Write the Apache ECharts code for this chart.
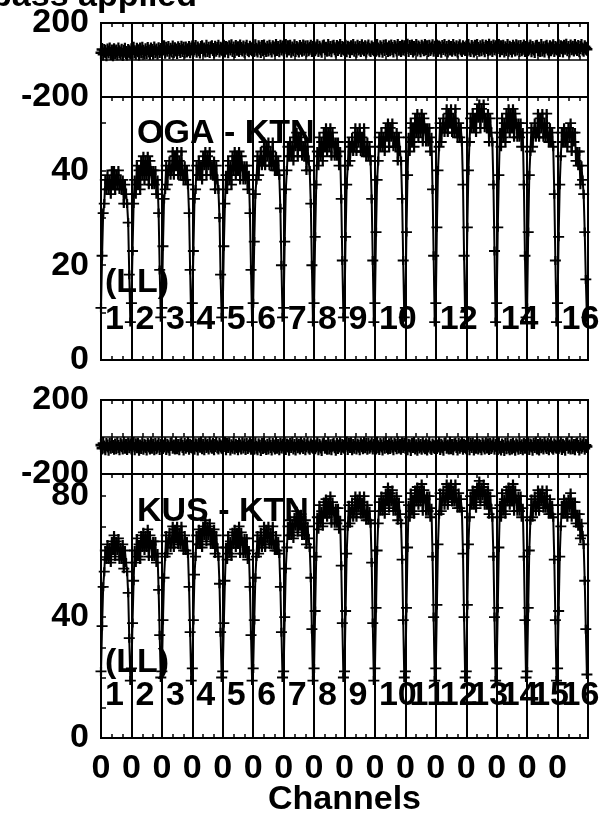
<!DOCTYPE html>
<html><head><meta charset="utf-8">
<script src="https://cdn.jsdelivr.net/npm/echarts@6/dist/echarts.min.js"></script>
<style>html,body{margin:0;padding:0;background:#fff}#c{width:599px;height:815px}</style>
</head><body><div id="c"></div>
<script>
const N_IF = 16, N_CH = 28;

const ampOGA = [
 [11,22,31, 33,38,36,39,36,38,35,40,37,40,36,39,37,40,36,38,36,38,33,37,35,33, 29,18,8],
 [12,23,33, 38,35,41,37,40,36,42,39,43,38,42,39,43,37,42,40,37,40,37,40,35,38, 31,19,9],
 [11,24,34, 36,41,37,40,42,39,40,44,39,43,41,44,39,42,39,44,39,38,41,38,40,37, 31,19,8],
 [12,23,34, 36,41,39,42,39,41,38,43,41,44,39,43,41,44,39,41,39,42,36,41,38,36, 30,18,9],
 [11,24,33, 39,36,42,38,41,37,43,40,44,39,43,40,44,38,43,41,38,41,38,41,36,39, 31,19,8],
 [12,25,35, 38,43,39,42,44,41,42,46,41,45,43,46,41,44,41,46,41,40,43,40,42,39, 32,20,9],
 [11,25,36, 40,45,43,46,43,45,42,47,45,48,43,47,45,48,43,45,43,46,40,45,42,40, 33,20,8],
 [12,26,37, 44,41,47,43,46,42,48,45,49,44,48,45,49,43,48,46,43,46,43,46,41,44, 34,21,9],
 [11,26,37, 41,46,42,45,47,44,45,49,44,48,46,49,44,47,44,49,44,43,46,43,45,42, 34,21,8],
 [12,27,38, 42,47,45,48,45,47,44,49,47,50,45,49,47,50,45,47,45,48,42,47,44,42, 34,21,9],
 [11,27,39, 47,44,50,46,49,45,51,48,52,47,51,48,52,46,51,49,46,49,46,49,44,47, 36,22,8],
 [12,28,40, 45,50,46,49,51,48,49,53,48,52,50,53,48,51,48,53,48,47,50,47,49,46, 37,22,9],
 [11,28,40, 46,51,49,52,49,51,48,53,51,54,49,53,51,54,49,51,49,52,46,51,48,46, 37,23,8],
 [12,28,39, 48,45,51,47,50,46,52,49,53,48,52,49,53,47,52,50,47,50,47,50,45,48, 37,22,9],
 [11,27,39, 44,49,45,48,50,47,48,52,47,51,49,52,47,50,47,52,47,46,49,46,48,45, 35,21,8],
 [12,26,37, 43,48,46,49,46,48,45,49,47,50,44,48,46,48,42,44,41,44,37,41,38,35, 27,17,9]
];

const phaseOGA = [
 [39,57,32,51,46,28,54,43,60,35,48,29,56,41,49,34,59,45,37,53,30,47,58,40,33,52,44,38],
 [55,39,64,45,36,58,50,33,60,43,63,47,38,56,41,62,48,35,59,52,40,65,44,54,37,61,46,57],
 [47,59,71,42,64,53,67,40,58,49,70,45,61,54,41,66,57,46,69,51,63,43,65,48,56,68,44,60],
 [70,52,61,73,47,65,56,43,68,72,54,60,49,75,51,63,46,66,71,57,44,69,53,62,74,48,64,58],
 [56,74,49,68,63,45,71,60,77,52,65,46,73,58,66,51,76,62,54,70,47,64,75,57,50,69,61,55],
 [68,52,77,58,49,71,63,46,73,56,76,60,51,69,54,75,61,48,72,65,53,78,57,67,50,74,59,70],
 [54,66,78,49,71,60,74,47,65,56,77,52,68,61,48,73,64,53,76,58,70,50,72,55,63,75,51,67],
 [74,56,65,77,51,69,60,47,72,76,58,64,53,79,55,67,50,70,75,61,48,73,57,66,78,52,68,62],
 [57,75,50,69,64,46,72,61,78,53,66,47,74,59,67,52,77,63,55,71,48,65,76,58,51,70,62,56],
 [69,53,78,59,50,72,64,47,74,57,77,61,52,70,55,76,62,49,73,66,54,79,58,68,51,75,60,71],
 [56,68,80,51,73,62,76,49,67,58,79,54,70,63,50,75,66,55,78,60,72,52,74,57,65,77,53,69],
 [58,76,51,70,65,47,73,62,79,54,67,48,75,60,68,53,78,64,56,72,49,66,77,59,52,71,63,57],
 [70,54,79,60,51,73,65,48,75,58,78,62,53,71,56,77,63,50,74,67,55,80,59,69,52,76,61,72],
 [55,67,79,50,72,61,75,48,66,57,78,53,69,62,49,74,65,54,77,59,71,51,73,56,64,76,52,68],
 [73,55,64,76,50,68,59,46,71,75,57,63,52,78,54,66,49,69,74,60,47,72,56,65,77,51,67,61],
 [59,77,52,71,66,48,74,63,80,55,68,49,76,61,69,54,79,65,57,73,50,67,78,60,53,72,64,58]
];

const ampKUS = [
 [22,37,50, 55,62,59,64,59,63,58,65,62,67,60,65,62,66,59,63,59,64,56,62,58,55, 48,33,19],
 [23,38,52, 62,58,66,60,64,59,67,63,68,62,67,63,69,60,67,64,60,65,60,65,58,61, 49,34,20],
 [22,39,53, 60,67,61,65,68,63,65,70,63,69,66,70,64,68,64,70,64,62,67,62,65,61, 50,35,19],
 [23,39,54, 60,67,64,69,64,68,63,70,67,72,65,70,67,71,64,68,64,69,61,67,63,60, 51,35,20],
 [22,38,52, 63,59,67,61,65,60,68,64,69,63,68,64,70,61,68,65,61,66,61,66,59,62, 50,34,19],
 [23,39,53, 60,67,61,65,68,63,65,70,63,69,66,70,64,68,64,70,64,62,67,62,65,61, 50,35,20],
 [22,40,56, 63,70,67,72,67,71,66,73,70,75,68,73,70,74,67,71,67,72,64,70,66,63, 53,36,19],
 [23,42,60, 73,69,77,71,75,70,78,74,79,73,78,74,80,71,78,75,71,76,71,76,69,72, 57,38,20],
 [22,42,61, 70,77,71,75,78,73,75,80,73,79,76,80,74,78,74,80,74,72,77,72,75,71, 58,38,19],
 [23,43,62, 71,78,75,80,75,79,74,81,78,83,76,81,78,82,75,79,75,80,72,78,74,71, 59,39,20],
 [22,43,63, 77,73,81,75,79,74,82,78,83,77,82,78,84,75,82,79,75,80,75,80,73,76, 60,40,19],
 [23,44,64, 74,81,75,79,82,77,79,84,77,83,80,84,78,82,78,84,78,76,81,76,79,75, 61,40,20],
 [22,44,64, 73,80,77,82,77,81,76,83,80,85,78,83,80,84,77,81,77,82,74,80,76,73, 60,40,19],
 [23,43,63, 77,73,81,75,79,74,82,78,83,77,82,78,84,75,82,79,75,80,75,80,73,76, 60,39,20],
 [22,43,62, 72,79,73,77,80,75,77,82,75,81,78,82,76,80,76,82,76,74,79,74,77,73, 59,39,19],
 [23,42,60, 70,77,74,79,74,78,73,79,76,81,73,78,74,78,71,74,70,74,66,71,67,64, 52,36,21]
];

const phaseKUS = [
 [-44,-60,-35,-54,-63,-41,-49,-66,-39,-56,-36,-52,-61,-43,-58,-37,-51,-64,-40,-47,-59,-34,-55,-45,-62,-38,-53,-42],
 [-59,-47,-35,-64,-42,-53,-39,-66,-48,-57,-36,-61,-45,-52,-65,-40,-49,-60,-37,-55,-43,-63,-41,-58,-50,-38,-62,-46],
 [-39,-57,-48,-36,-62,-44,-53,-66,-41,-37,-55,-49,-60,-34,-58,-46,-63,-43,-38,-52,-65,-40,-56,-47,-35,-61,-45,-51],
 [-54,-36,-61,-42,-47,-65,-39,-50,-33,-58,-45,-64,-37,-52,-44,-59,-34,-48,-56,-40,-63,-46,-35,-53,-60,-41,-49,-55],
 [-58,-46,-34,-63,-41,-52,-38,-65,-47,-56,-35,-60,-44,-51,-64,-39,-48,-59,-36,-54,-42,-62,-40,-57,-49,-37,-61,-45],
 [-45,-61,-36,-55,-64,-42,-50,-67,-40,-57,-37,-53,-62,-44,-59,-38,-52,-65,-41,-48,-60,-35,-56,-46,-63,-39,-54,-43],
 [-55,-37,-62,-43,-48,-66,-40,-51,-34,-59,-46,-65,-38,-53,-45,-60,-35,-49,-57,-41,-64,-47,-36,-54,-61,-42,-50,-56],
 [-40,-58,-49,-37,-63,-45,-54,-67,-42,-38,-56,-50,-61,-35,-59,-47,-64,-44,-39,-53,-66,-41,-57,-48,-36,-62,-46,-52],
 [-57,-45,-33,-62,-40,-51,-37,-64,-46,-55,-34,-59,-43,-50,-63,-38,-47,-58,-35,-53,-41,-61,-39,-56,-48,-36,-60,-44],
 [-43,-59,-34,-53,-62,-40,-48,-65,-38,-55,-35,-51,-60,-42,-57,-36,-50,-63,-39,-46,-58,-33,-54,-44,-61,-37,-52,-41],
 [-56,-38,-63,-44,-49,-67,-41,-52,-35,-60,-47,-66,-39,-54,-46,-61,-36,-50,-58,-42,-65,-48,-37,-55,-62,-43,-51,-57],
 [-39,-57,-48,-36,-62,-44,-53,-66,-41,-37,-55,-49,-60,-34,-58,-46,-63,-43,-38,-52,-65,-40,-56,-47,-35,-61,-45,-51],
 [-58,-46,-34,-63,-41,-52,-38,-65,-47,-56,-35,-60,-44,-51,-64,-39,-48,-59,-36,-54,-42,-62,-40,-57,-49,-37,-61,-45],
 [-46,-62,-37,-56,-65,-43,-51,-68,-41,-58,-38,-54,-63,-45,-60,-39,-53,-66,-42,-49,-61,-36,-57,-47,-64,-40,-55,-44],
 [-55,-37,-62,-43,-48,-66,-40,-51,-34,-59,-46,-65,-38,-53,-45,-60,-35,-49,-57,-41,-64,-47,-36,-54,-61,-42,-50,-56],
 [-39,-57,-48,-36,-62,-44,-53,-66,-41,-37,-55,-49,-60,-34,-58,-46,-63,-43,-38,-52,-65,-40,-56,-47,-35,-61,-45,-51]
];

const baselines = ['OGA - KTN', 'KUS - KTN'];
const stokesLabel = '(LL)';
const ifLabelsOGA = ['1','2','3','4','5','6','7','8','9','10','','12','','14','','16'];
const ifLabelsKUS = ['1','2','3','4','5','6','7','8','9','10','11','12','13','14','15','16'];
const phaseTickLabels = [-200, 200];
const ampOGATickLabels = [0, 20, 40];
const ampKUSTickLabels = [0, 40, 80];
const xTickLabel = '0';
const titleText = 'Bandpass applied';
const xName = 'Channels';

const FONT = '"Liberation Sans", Arial, Helvetica, sans-serif';
const FS = 34;
const L = 101, W = 487;
const gridDefs = [
  {top: 23, height: 74},
  {top: 97, height: 263},
  {top: 400, height: 74},
  {top: 474, height: 264}
];
const channels = Array.from({length: N_IF * N_CH + 1}, (_, i) => i);
const PLUS = 'path://M0,4H10V6H0Z M4,0H6V10H4Z';

const chart = echarts.init(document.getElementById('c'), null, {renderer: 'canvas'});

const grid = gridDefs.map(g => ({left: L, width: W, top: g.top, height: g.height,
  show: true, borderColor: '#000', borderWidth: 2, backgroundColor: 'transparent', containLabel: false}));

const xAxis = [];
gridDefs.forEach((g, gi) => {
  xAxis.push({
    type: 'category', gridIndex: gi, data: channels, boundaryGap: false, position: 'bottom',
    axisLine: {show: false},
    axisTick: {show: true, inside: true, length: 4, interval: i => (i % N_CH === 10 || i % N_CH === 20), lineStyle: {color: '#000', width: 1.5}},
    splitLine: {show: true, interval: i => (i % N_CH === 0), lineStyle: {color: '#000', width: 2}},
    axisLabel: gi === 3 ? {show: true, interval: i => (i % N_CH === 0 && i < N_IF * N_CH), formatter: () => xTickLabel,
      fontSize: FS, fontWeight: 'bold', fontFamily: FONT, color: '#000', margin: 14} : {show: false}
  });
  xAxis.push({
    type: 'category', gridIndex: gi, data: channels, boundaryGap: false, position: 'top',
    axisLine: {show: false},
    axisTick: {show: true, inside: true, length: 4, interval: i => (i % N_CH === 10 || i % N_CH === 20), lineStyle: {color: '#000', width: 1.5}},
    splitLine: {show: false}, axisLabel: {show: false}
  });
});

const labelStyle = {fontSize: FS, fontWeight: 'bold', fontFamily: FONT, color: '#000', margin: 12,
  padding: [8, 0, 0, 0], showMinLabel: true, showMaxLabel: true};
const yAxis = [
  {type: 'value', gridIndex: 0, min: -200, max: 200, interval: 200,
   axisLine: {show: false}, axisTick: {show: false},
   splitLine: {show: true, lineStyle: {color: '#000', width: 1.5}},
   axisLabel: Object.assign({}, labelStyle, {formatter: v => phaseTickLabels.includes(v) ? String(v) : ''})},
  {type: 'value', gridIndex: 1, min: 0, max: 55.5, interval: 10,
   axisLine: {show: false}, axisTick: {show: true, inside: true, length: 5, lineStyle: {color: '#000', width: 1.5}},
   splitLine: {show: false},
   axisLabel: Object.assign({}, labelStyle, {formatter: v => ampOGATickLabels.includes(v) ? String(v) : ''})},
  {type: 'value', gridIndex: 2, min: -200, max: 200, interval: 200,
   axisLine: {show: false}, axisTick: {show: false},
   splitLine: {show: true, lineStyle: {color: '#000', width: 1.5}},
   axisLabel: Object.assign({}, labelStyle, {formatter: v => phaseTickLabels.includes(v) ? String(v) : ''})},
  {type: 'value', gridIndex: 3, min: 0, max: 87.3, interval: 10,
   axisLine: {show: false}, axisTick: {show: true, inside: true, length: 5, lineStyle: {color: '#000', width: 1.5}},
   splitLine: {show: false},
   axisLabel: Object.assign({}, labelStyle, {formatter: v => ampKUSTickLabels.includes(v) ? String(v) : ''})}
];

function mkSeries(arr, gi, size) {
  return {
    type: 'line', xAxisIndex: gi * 2, yAxisIndex: gi, data: arr.flat(),
    symbol: PLUS, symbolSize: size, showAllSymbol: true, showSymbol: true,
    lineStyle: {color: '#000', width: 2}, itemStyle: {color: '#000'},
    silent: true, animation: false, z: 3
  };
}
const series = [
  mkSeries(phaseOGA, 0, [11, 13]), mkSeries(ampOGA, 1, [11, 9]),
  mkSeries(phaseKUS, 2, [11, 13]), mkSeries(ampKUS, 3, [11, 9])
];

const txt = (text, x, y, align) => ({type: 'text', x, y, z: 20, silent: true,
  style: {text, fill: '#000', font: 'bold ' + FS + 'px ' + FONT, align: align || 'left', verticalAlign: 'middle'}});
const ifW = W / N_IF;
const graphic = [
  txt(titleText, 197, -3, 'right'),
  txt(baselines[0], 137, 134),
  txt(stokesLabel, 105, 283),
  txt(baselines[1], 137, 512),
  txt(stokesLabel, 105, 663),
  txt(xName, L + W / 2, 800, 'center')
];
ifLabelsOGA.forEach((s, k) => { if (s) graphic.push(txt(s, L + k * ifW + 4, 320)); });
ifLabelsKUS.forEach((s, k) => { if (s) graphic.push(txt(s, L + k * ifW + 4, 696)); });

chart.setOption({animation: false, backgroundColor: '#fff', grid, xAxis, yAxis, series, graphic});
</script></body></html>
